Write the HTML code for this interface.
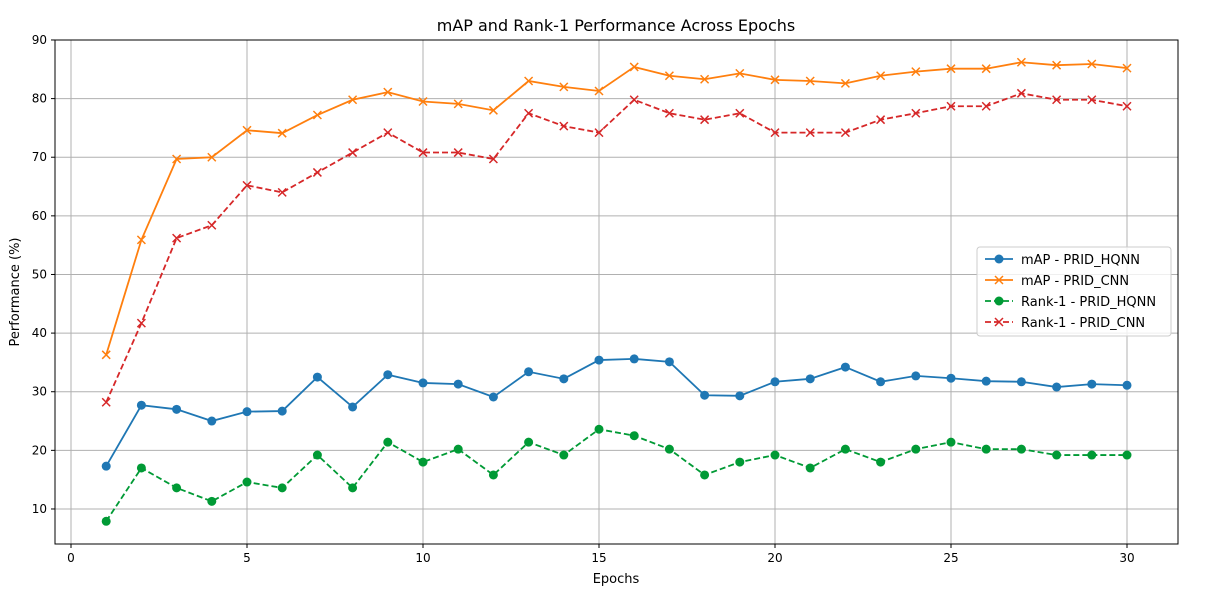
<!DOCTYPE html>
<html><head><meta charset="utf-8"><style>
body{margin:0;background:#fff;font-family:"Liberation Sans","DejaVu Sans",sans-serif;}
svg text{font-family:"DejaVu Sans","Liberation Sans",sans-serif;}
</style></head><body>
<svg id="chart" width="1216" height="586" xmlns="http://www.w3.org/2000/svg">
<rect width="1216" height="586" fill="#fff"/>
<g id="grid"></g>
<g id="series"></g>
<rect x="55" y="40" width="1123" height="504" fill="none" stroke="#000" stroke-width="1"/>
<g id="axes"></g>
<text x="616" y="31" text-anchor="middle" font-size="16">mAP and Rank-1 Performance Across Epochs</text>
<text x="616" y="583" text-anchor="middle" font-size="13">Epochs</text>
<text transform="translate(19,292) rotate(-90)" text-anchor="middle" font-size="13">Performance (%)</text>
<g id="legend"></g>
</svg>
<script>
const epochs=[1,2,3,4,5,6,7,8,9,10,11,12,13,14,15,16,17,18,19,20,21,22,23,24,25,26,27,28,29,30];
const mapHqnn=[17.3,27.7,27.0,25.0,26.6,26.7,32.5,27.4,32.9,31.5,31.3,29.1,33.4,32.2,35.4,35.6,35.1,29.4,29.3,31.7,32.2,34.2,31.7,32.7,32.3,31.8,31.7,30.8,31.3,31.1];
const mapCnn=[36.3,55.9,69.7,70.0,74.6,74.1,77.2,79.8,81.1,79.5,79.1,78.0,83.0,82.0,81.3,85.4,83.9,83.3,84.3,83.2,83.0,82.6,83.9,84.6,85.1,85.1,86.2,85.7,85.9,85.2];
const r1Hqnn=[7.9,17.0,13.6,11.3,14.6,13.6,19.2,13.6,21.4,18.0,20.2,15.8,21.4,19.2,23.6,22.5,20.2,15.8,18.0,19.2,17.0,20.2,18.0,20.2,21.4,20.2,20.2,19.2,19.2,19.2];
const r1Cnn=[28.2,41.7,56.2,58.4,65.2,64.0,67.4,70.8,74.2,70.8,70.8,69.7,77.5,75.3,74.2,79.8,77.5,76.4,77.5,74.2,74.2,74.2,76.4,77.5,78.7,78.7,80.9,79.8,79.8,78.7];
const xTicks=[0,5,10,15,20,25,30];
const yTicks=[10,20,30,40,50,60,70,80,90];
const seriesNames=["mAP - PRID_HQNN","mAP - PRID_CNN","Rank-1 - PRID_HQNN","Rank-1 - PRID_CNN"];
const NS="http://www.w3.org/2000/svg";
const X=v=>71+(v-0)*35.2;
const Y=v=>567.6-v*5.8625;
function mk(tag,attrs,parent){const e=document.createElementNS(NS,tag);for(const k in attrs)e.setAttribute(k,attrs[k]);parent.appendChild(e);return e;}
const grid=document.getElementById('grid'),axes=document.getElementById('axes'),ser=document.getElementById('series'),leg=document.getElementById('legend');
xTicks.forEach(t=>{const x=X(t);
 const g=mk('line',{x1:x,x2:x,y1:40,y2:544,stroke:'#b0b0b0','stroke-width':1},grid);
 
 
 mk('line',{x1:x,x2:x,y1:544,y2:548,stroke:'#000'},axes);
 const tx=mk('text',{x:x,y:562,'text-anchor':'middle','font-size':12},axes);tx.textContent=t;
 
 
});
yTicks.forEach(t=>{const y=Y(t);
 const g=mk('line',{x1:55,x2:1178,y1:y,y2:y,stroke:'#b0b0b0','stroke-width':1},grid);
 
 
 mk('line',{x1:51,x2:55,y1:y,y2:y,stroke:'#000'},axes);
 const tx=mk('text',{x:47,y:y+4,'text-anchor':'end','font-size':12},axes);tx.textContent=t;
 
 
});
const cfg=[{d:mapHqnn,c:'#1f77b4',dash:'',m:'o'},{d:mapCnn,c:'#ff7f0e',dash:'',m:'x'},{d:r1Hqnn,c:'#009a35',dash:'6,3',m:'o'},{d:r1Cnn,c:'#d62728',dash:'6,3',m:'x'}];
function marker(m,x,y,c,p){
 if(m==='o'){return mk('circle',{cx:x,cy:y,r:4.5,fill:c},p);}
 const g=mk('path',{d:`M${x-4},${y-4}L${x+4},${y+4}M${x-4},${y+4}L${x+4},${y-4}`,stroke:c,'stroke-width':1.5,fill:'none'},p);return g;
}
cfg.forEach((s,i)=>{
 const g=mk('g',{},ser);
 
 
 const pts=s.d.map((v,j)=>X(epochs[j])+','+Y(v)).join(' ');
 const pl=mk('polyline',{points:pts,fill:'none',stroke:s.c,'stroke-width':1.8,'stroke-dasharray':s.dash},g);
 
 
 s.d.forEach((v,j)=>{const m=marker(s.m,X(epochs[j]),Y(v),s.c,g);
  
  });
 const ly=259+i*21;
 mk('line',{x1:985,x2:1013,y1:ly,y2:ly,stroke:s.c,'stroke-width':1.8,'stroke-dasharray':s.dash},leg);
 marker(s.m,999,ly,s.c,leg);
 const t=mk('text',{x:1021,y:ly+5,'font-size':13},leg);t.textContent=seriesNames[i];
 
 
});
const box=mk('rect',{x:977,y:247,width:194,height:89,rx:3,fill:'#fff','fill-opacity':0.8,stroke:'#ccc'},leg);
leg.insertBefore(box,leg.firstChild);
</script>
</body></html>
